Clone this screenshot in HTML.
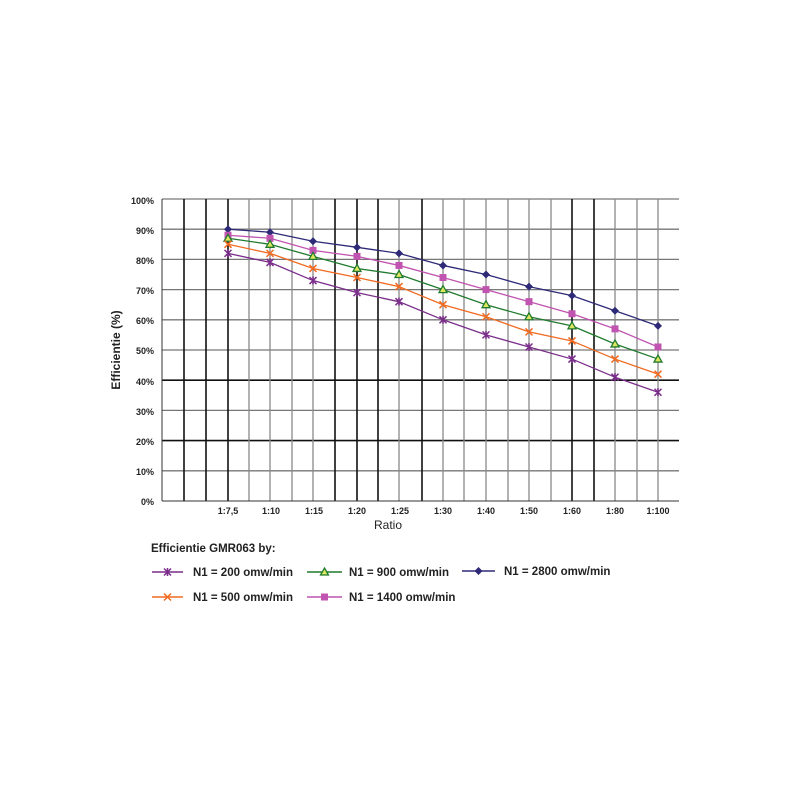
<!DOCTYPE html>
<html><head><meta charset="utf-8"><style>html,body{margin:0;padding:0;background:#fff}svg{display:block}</style></head>
<body>
<svg width="800" height="800" viewBox="0 0 800 800" xmlns="http://www.w3.org/2000/svg" font-family="Liberation Sans, sans-serif">
<rect width="800" height="800" fill="#fff"/>
<g id="grid"></g>
<g id="series"></g>
<g font-size="9" font-weight="bold" fill="#222" text-anchor="end">
<text x="154" y="204">100%</text><text x="154" y="234">90%</text><text x="154" y="264">80%</text><text x="154" y="294">70%</text><text x="154" y="324">60%</text><text x="154" y="354">50%</text><text x="154" y="385">40%</text><text x="154" y="415">30%</text><text x="154" y="445">20%</text><text x="154" y="475">10%</text><text x="154" y="505">0%</text>
</g>
<g font-size="9" font-weight="bold" fill="#222" text-anchor="middle">
<text x="228" y="514">1:7,5</text><text x="271" y="514">1:10</text><text x="314" y="514">1:15</text><text x="357" y="514">1:20</text><text x="400" y="514">1:25</text><text x="443" y="514">1:30</text><text x="486" y="514">1:40</text><text x="529" y="514">1:50</text><text x="572" y="514">1:60</text><text x="615" y="514">1:80</text><text x="658" y="514">1:100</text>
</g>
<text x="388" y="529" font-size="12" text-anchor="middle" fill="#222">Ratio</text>
<text transform="translate(120,350) rotate(-90)" font-size="12" font-weight="bold" text-anchor="middle" fill="#222">Efficientie (%)</text>
<text x="151" y="552" font-size="11.5" font-weight="bold" fill="#222">Efficientie GMR063 by:</text>
<g font-size="11.5" font-weight="bold" fill="#222">
<text x="193" y="576">N1 = 200 omw/min</text>
<text x="349" y="576">N1 = 900 omw/min</text>
<text x="504" y="575">N1 = 2800 omw/min</text>
<text x="193" y="601">N1 = 500 omw/min</text>
<text x="349" y="601">N1 = 1400 omw/min</text>
</g>
<g id="legend"></g>
<script>
const ns="http://www.w3.org/2000/svg";
function el(p,t,a){const e=document.createElementNS(ns,t);for(const k in a)e.setAttribute(k,a[k]);p.appendChild(e);return e;}
const g=document.getElementById('grid');
const Y=v=>501-v*3.02;
const vx=[184,206,228,249,270,292,313,335,357,378,399,422,443,464,486,508,529,551,572,594,615,637,658];
const blk=[184,206,228,335,357,378,422,572,594];
for(let i=1;i<=10;i++){const y=Y(i*10);const dark=(i==4||i==2);el(g,'line',{x1:162,x2:679,y1:y,y2:y,stroke:dark?'#111':'#777','stroke-width':dark?1.6:1.3});}
vx.forEach(x=>{const b=blk.includes(x);el(g,'line',{x1:x,x2:x,y1:199,y2:501,stroke:b?'#111':'#888','stroke-width':b?1.6:1.3});});
el(g,'line',{x1:162,x2:162,y1:199,y2:501,stroke:'#333','stroke-width':1});
el(g,'line',{x1:162,x2:679,y1:501,y2:501,stroke:'#333','stroke-width':1});
const xs=[228,270,313,357,399,443,486,529,572,615,658];
const S=[
{c:'#2e2a78',m:'d',d:[90,89,86,84,82,78,75,71,68,63,58]},
{c:'#c054b0',m:'s',d:[88,87,83,81,78,74,70,66,62,57,51]},
{c:'#217a2e',m:'t',d:[87,85,81,77,75,70,65,61,58,52,47]},
{c:'#f06a20',m:'x',d:[85,82,77,74,71,65,61,56,53,47,42]},
{c:'#7a2d8a',m:'a',d:[82,79,73,69,66,60,55,51,47,41,36]}];
function mk(p,m,x,y,c){
 if(m=='d')el(p,'polygon',{points:`${x},${y-4} ${x+4},${y} ${x},${y+4} ${x-4},${y}`,fill:c});
 else if(m=='s')el(p,'rect',{x:x-3.5,y:y-3.5,width:7,height:7,fill:c});
 else if(m=='t')el(p,'polygon',{points:`${x},${y-4} ${x+4},${y+3} ${x-4},${y+3}`,fill:'#dde860',stroke:c,'stroke-width':1.3});
 else{el(p,'path',{d:`M${x-3.5} ${y-3.5}L${x+3.5} ${y+3.5}M${x+3.5} ${y-3.5}L${x-3.5} ${y+3.5}`+(m=='a'?`M${x} ${y-4}V${y+4}`:''),stroke:c,'stroke-width':1.5});}
}
const sg=document.getElementById('series');
S.forEach(s=>{el(sg,'polyline',{points:s.d.map((v,i)=>xs[i]+','+Y(v)).join(' '),fill:'none',stroke:s.c,'stroke-width':1.3});s.d.forEach((v,i)=>mk(sg,s.m,xs[i],Y(v),s.c));});
const lg=document.getElementById('legend');
[[152,183,572,4],[307,342,572,2],[462,495,571,0],[152,183,597,3],[307,342,597,1]].forEach(([a,b,y,i])=>{const s=S[i];el(lg,'line',{x1:a,x2:b,y1:y,y2:y,stroke:s.c,'stroke-width':1.5});mk(lg,s.m,(a+b)/2,y,s.c);});
</script>
</svg>
</body></html>
